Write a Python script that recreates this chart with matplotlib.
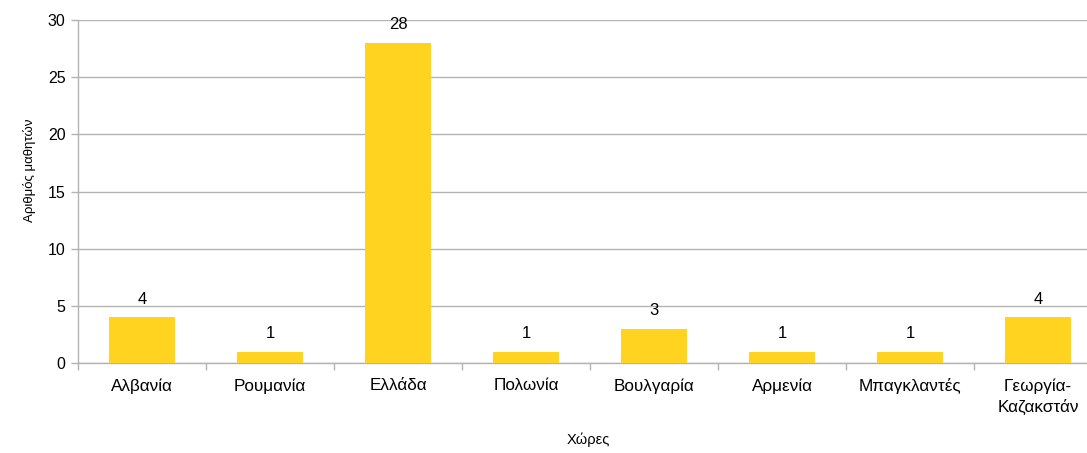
import numpy as np
import matplotlib.pyplot as plt

plt.rcParams['font.family'] = ['Liberation Sans', 'DejaVu Sans']

countries = ['Αλβανία', 'Ρουμανία', 'Ελλάδα', 'Πολωνία', 'Βουλγαρία',
             'Αρμενία', 'Μπαγκλαντές', 'Γεωργία-\nΚαζακστάν']
students = [4, 1, 28, 1, 3, 1, 1, 4]

grey = '#b3b3b3'
x = np.arange(len(countries))

fig = plt.figure(figsize=(10.87, 4.53), dpi=100)
# plot area runs a bit past the right edge of the picture, as in the original
ax = fig.add_axes([78 / 1087, (453 - 363) / 453, (1102 - 78) / 1087, 343 / 453])

ax.bar(x, students, width=0.51, color='#ffd320', zorder=3)
for xi, v in zip(x, students):
    ax.annotate(str(v), (xi, v), xytext=(0, 13), textcoords='offset points',
                ha='center', va='center', fontsize=12, zorder=4)

ax.set_xlim(-0.5, len(countries) - 0.5)
ax.set_ylim(0, 30)
ax.set_yticks(range(0, 31, 5))
ax.set_xticks(x)
ax.set_xticklabels(countries, fontsize=12.3, linespacing=1.4)
ax.set_xticks(np.arange(-0.5, len(countries), 1), minor=True)
ax.tick_params(axis='x', which='major', length=0, pad=11)
ax.tick_params(axis='x', which='minor', length=5, color=grey, width=1)
ax.tick_params(axis='y', length=5, color=grey, width=1, labelsize=11.5, pad=4)

ax.grid(axis='y', color=grey, linewidth=1, zorder=0)
for s in ['top', 'right']:
    ax.spines[s].set_visible(False)
for s in ['left', 'bottom']:
    ax.spines[s].set_color(grey)
    ax.spines[s].set_linewidth(1)

fig.text(30 / 1087, 1 - 170 / 453, 'Αριθμός μαθητών', rotation=90,
         ha='center', va='center', fontsize=9.5)
fig.text(588 / 1087, 1 - 440 / 453, 'Χώρες', ha='center', va='center', fontsize=10.5)

fig.savefig('out.png', dpi=100)
